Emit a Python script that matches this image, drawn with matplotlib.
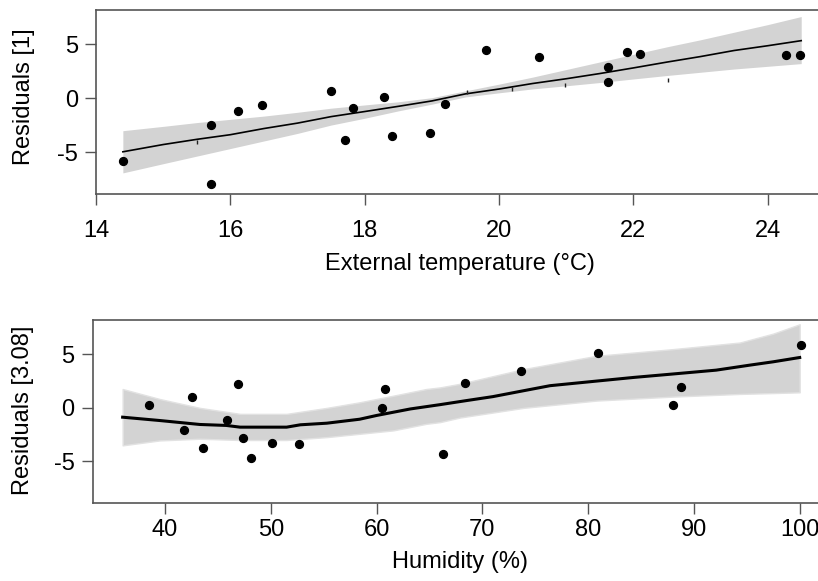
import numpy as np
import matplotlib
matplotlib.use("Agg")
import matplotlib.pyplot as plt

plt.rcParams['font.family'] = ['Liberation Sans', 'DejaVu Sans']
plt.rcParams['axes.unicode_minus'] = False

# Top panel: external temperature partial residuals.
temp_x = [14.40, 15.71, 15.71, 16.11, 16.47, 17.50, 17.70, 17.82, 18.29, 18.41,
          18.97, 19.20, 19.80, 20.60, 21.62, 21.62, 21.90, 22.10, 24.28, 24.48]
temp_y = [-5.83, -2.48, -7.95, -1.16, -0.61, 0.71, -3.85, -0.94, 0.12, -3.51,
          -3.21, -0.52, 4.47, 3.80, 2.91, 1.53, 4.28, 4.13, 3.98, 4.04]

# Fitted line and band.
temp_fit_x = [14.4, 15.0, 15.5, 16.0, 16.5, 17.0, 17.5, 18.0, 18.5, 19.0, 19.5,
              20.0, 20.5, 21.0, 21.5, 22.0, 22.5, 23.0, 23.5, 24.0, 24.5]
temp_fit_y = [-4.95, -4.28, -3.80, -3.37, -2.80, -2.30, -1.70, -1.23, -0.75, -0.25, 0.40,
              0.85, 1.36, 1.80, 2.28, 2.80, 3.34, 3.85, 4.41, 4.85, 5.32]
temp_upper = [-3.00, -2.60, -2.25, -1.95, -1.65, -1.30, -0.92, -0.62, -0.33, 0.05, 0.68,
              1.30, 1.95, 2.65, 3.35, 4.05, 4.75, 5.40, 6.10, 6.80, 7.55]
temp_lower = [-6.90, -6.05, -5.35, -4.65, -3.95, -3.25, -2.48, -1.85, -1.17, -0.55, 0.12,
              0.50, 0.86, 1.15, 1.45, 1.78, 2.10, 2.40, 2.70, 2.95, 3.20]

# Small marks along the fitted line.
temp_mark_x = [15.51, 19.52, 20.20, 20.99, 22.51]
temp_mark_y = [-4.07, 0.60, 0.81, 1.21, 1.67]

# Bottom panel: humidity partial residuals.
hum_x = [38.52, 41.83, 42.58, 43.59, 45.86, 46.87, 47.37, 48.13, 50.14, 52.67,
         60.48, 60.77, 66.28, 68.33, 73.62, 80.90, 87.99, 88.74, 100.08]
hum_y = [0.31, -2.11, 1.05, -3.75, -1.12, 2.19, -2.85, -4.64, -3.25, -3.34,
         -0.04, 1.79, -4.31, 2.29, 3.43, 5.10, 0.31, 1.95, 5.85]

hum_fit_x = [36.0, 39.5, 43.3, 45.8, 47.1, 51.5, 52.8, 55.3, 58.4, 60.0, 63.2,
             66.0, 68.5, 71.0, 73.9, 76.4, 80.8, 84.3, 88.0, 92.1, 95.3, 97.5, 100.0]
hum_fit_y = [-0.87, -1.18, -1.55, -1.64, -1.80, -1.80, -1.58, -1.43, -1.06, -0.71, -0.10,
             0.30, 0.68, 1.05, 1.60, 2.07, 2.50, 2.84, 3.16, 3.52, 3.99, 4.30, 4.70]

hum_band_x = [36.0, 39.5, 43.3, 47.1, 51.5, 55.3, 58.4, 61.6, 64.7, 66.0, 67.9,
              73.9, 80.8, 88.0, 94.35, 97.5, 100.0]
hum_upper = [1.76, 0.83, 0.00, -0.56, -0.56, 0.00, 0.52, 1.14, 1.76, 1.91, 2.25,
             3.62, 4.86, 5.48, 6.10, 6.93, 7.80]
hum_lower = [-3.50, -3.04, -2.88, -3.00, -3.00, -2.73, -2.42, -2.10, -1.49, -1.33, -0.90,
             0.00, 0.68, 1.05, 1.30, 1.38, 1.45]

spine_col = '#555555'
band_col = '#d3d3d3'
fsize = 17

fig = plt.figure(figsize=(8.18, 5.81), dpi=100)
ax1 = fig.add_axes([96 / 818, 1 - 194 / 581, 722 / 818, 184.5 / 581])
ax2 = fig.add_axes([92.7 / 818, 1 - 502.7 / 581, 725.3 / 818, 182.7 / 581])


def style(ax, xpad):
    ax.spines['right'].set_visible(False)
    for s in ['left', 'top', 'bottom']:
        ax.spines[s].set_color(spine_col)
        ax.spines[s].set_linewidth(1.2)
    ax.tick_params(direction='out', length=8, width=1.0, color=spine_col,
                   labelsize=fsize, labelcolor='black')
    ax.tick_params(axis='x', pad=xpad)
    ax.tick_params(axis='y', pad=5)
    ax.set_yticks([-5, 0, 5])
    ax.set_ylim(-8.85, 8.2)


# Top panel.
ax1.fill_between(temp_fit_x, temp_lower, temp_upper, color=band_col, lw=0, zorder=1)
ax1.plot(temp_fit_x, temp_fit_y, color='black', lw=1.2, zorder=2)
ax1.plot(temp_mark_x, temp_mark_y, ls='none', marker='|', ms=3, mew=1, color='#222222')
ax1.scatter(temp_x, temp_y, s=32, color='black', zorder=3)
ax1.set_xlim(14, 24.75)
ax1.set_xticks([14, 16, 18, 20, 22, 24])
style(ax1, 11)
ax1.set_xlabel('External temperature (°C)', fontsize=fsize)
ax1.xaxis.set_label_coords(0.504, -0.38)
ax1.xaxis.label.set_va('center')
ax1.set_ylabel('Residuals [1]', fontsize=fsize)
ax1.yaxis.set_label_coords(-0.10, 0.526)
ax1.yaxis.label.set_va('center')

# Bottom panel.
ax2.fill_between(hum_band_x, hum_lower, hum_upper, color=band_col, lw=1,
                 edgecolor='#e2e2e2', zorder=1)
ax2.plot(hum_fit_x, hum_fit_y, color='black', lw=2.2, zorder=2)
ax2.scatter(hum_x, hum_y, s=32, color='black', zorder=3)
ax2.set_xlim(33.17, 101.73)
ax2.set_xticks([40, 50, 60, 70, 80, 90, 100])
style(ax2, 3.5)
ax2.set_xlabel('Humidity (%)', fontsize=fsize)
ax2.xaxis.set_label_coords(0.5064, -0.325)
ax2.xaxis.label.set_va('center')
ax2.set_ylabel('Residuals [3.08]', fontsize=fsize)
ax2.yaxis.set_label_coords(-0.096, 0.507)
ax2.yaxis.label.set_va('center')

fig.savefig('out.png', dpi=100)
